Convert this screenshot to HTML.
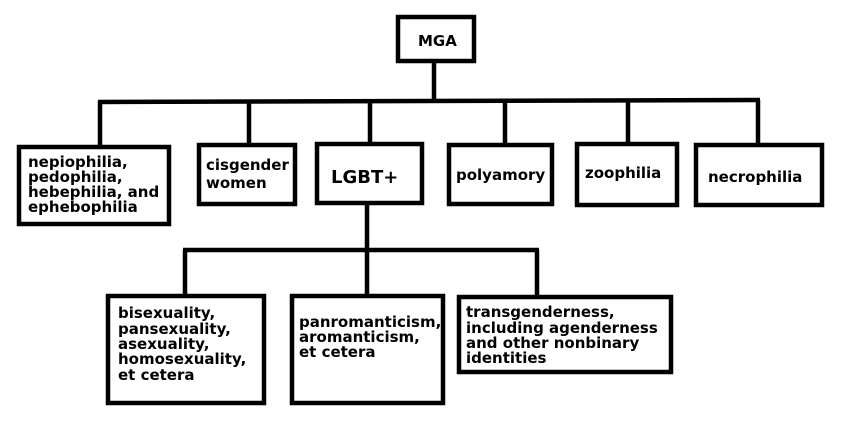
<!DOCTYPE html>
<html><head><meta charset="utf-8"><style>
html,body{margin:0;padding:0;background:#fff;}
svg{display:block}
text{font-family:"DejaVu Sans","Liberation Sans",sans-serif;font-weight:bold;font-size:15px;fill:#000}
</style></head><body>
<svg width="843" height="427" viewBox="0 0 843 427" xmlns="http://www.w3.org/2000/svg">
<g stroke="#000" stroke-width="4.5" fill="none">
<rect x="398" y="17" width="76" height="44"/>
<line x1="434" y1="61" x2="434" y2="101"/>
<line x1="98" y1="102" x2="760" y2="100"/>
<line x1="100" y1="101" x2="100" y2="147"/>
<line x1="249" y1="101" x2="249" y2="145"/>
<line x1="370" y1="101" x2="370" y2="144"/>
<line x1="505" y1="101" x2="505" y2="145"/>
<line x1="628" y1="100" x2="628" y2="144"/>
<line x1="758" y1="100" x2="758" y2="145"/>
<rect x="19" y="147" width="150" height="77"/>
<rect x="199" y="145" width="96" height="59"/>
<rect x="317" y="144" width="105" height="59"/>
<rect x="449" y="145" width="103" height="59"/>
<rect x="577" y="144" width="100" height="61"/>
<rect x="696" y="145" width="126" height="60"/>
<line x1="367" y1="203" x2="367" y2="250"/>
<line x1="183" y1="250" x2="539" y2="250"/>
<line x1="185" y1="250" x2="185" y2="296"/>
<line x1="367" y1="250" x2="367" y2="296"/>
<line x1="537" y1="250" x2="537" y2="297"/>
<rect x="108" y="296" width="156" height="107"/>
<rect x="292" y="296" width="151" height="107"/>
<rect x="459" y="297" width="212" height="75"/>
</g>
<text x="418" y="46">MGA</text>
<text x="28" y="167">nepiophilia,</text>
<text x="28" y="182">pedophilia,</text>
<text x="28" y="197">hebephilia, and</text>
<text x="28" y="212">ephebophilia</text>
<text x="206" y="170">cisgender</text>
<text x="206" y="188">women</text>
<text x="331" y="183" style="font-size:18px">LGBT+</text>
<text x="456" y="180">polyamory</text>
<text x="585" y="178">zoophilia</text>
<text x="708" y="182">necrophilia</text>
<text x="118" y="318">bisexuality,</text>
<text x="118" y="334">pansexuality,</text>
<text x="118" y="349">asexuality,</text>
<text x="118" y="364">homosexuality,</text>
<text x="118" y="380">et cetera</text>
<text x="299" y="327">panromanticism,</text>
<text x="299" y="342">aromanticism,</text>
<text x="299" y="357">et cetera</text>
<text x="466" y="317">transgenderness,</text>
<text x="466" y="333">including agenderness</text>
<text x="466" y="348">and other nonbinary</text>
<text x="466" y="363">identities</text>
</svg>
</body></html>
